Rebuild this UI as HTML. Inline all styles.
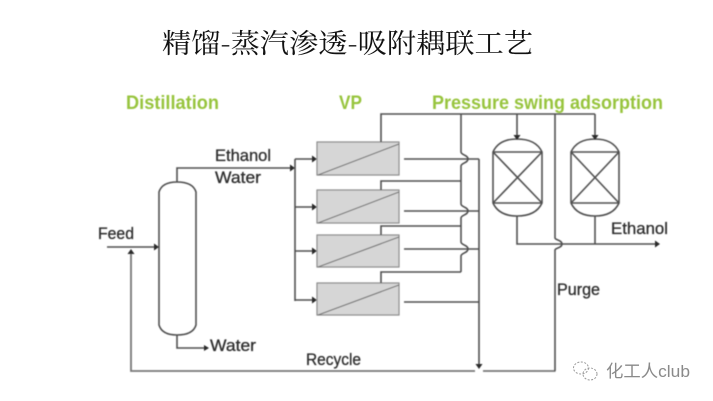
<!DOCTYPE html>
<html lang="zh">
<head>
<meta charset="utf-8">
<style>
html,body{margin:0;padding:0;background:#fff;width:713px;height:401px;overflow:hidden}
svg{display:block}
.l{fill:none;stroke:#4f4f4f;stroke-width:1.6}
.m{fill:#d6d6d6;stroke:#8a8a8a;stroke-width:1.2}
.d{fill:none;stroke:#6f6f6f;stroke-width:1.1}
.a{fill:#2a2a2a;stroke:none}
.t{font-family:"Liberation Sans",sans-serif;font-size:16.5px;fill:#2e2e2e;stroke:#2e2e2e;stroke-width:.3}
.g{font-family:"Liberation Sans",sans-serif;font-size:19px;font-weight:bold;fill:#97c43c}
</style>
</head>
<body>
<svg width="713" height="401" viewBox="0 0 713 401" xmlns="http://www.w3.org/2000/svg">
<defs><filter id="b" x="-5%" y="-5%" width="110%" height="110%"><feGaussianBlur stdDeviation="0.45"/></filter></defs>

<text x="162" y="53" textLength="371" lengthAdjust="spacingAndGlyphs" font-family="'Noto Serif CJK SC',serif" font-size="27" fill="#111">精馏-蒸汽渗透-吸附耦联工艺</text>

<g filter="url(#b)">
<text class="g" x="126" y="109" textLength="93" lengthAdjust="spacingAndGlyphs">Distillation</text>
<text class="g" x="339" y="109" textLength="23" lengthAdjust="spacingAndGlyphs">VP</text>
<text class="g" x="432" y="109" textLength="231" lengthAdjust="spacingAndGlyphs">Pressure swing adsorption</text>

<!-- column -->
<path class="l" d="M159 192 Q162 182 177 182 Q193 182 196 192 V325 Q193 335 177 335 Q162 335 159 325 Z"/>
<!-- feed -->
<path class="l" d="M107 247 H156"/>
<polygon class="a" points="159,247 154,243.5 154,250.5"/>
<!-- top product -->
<path class="l" d="M177 182 V168 H292"/>
<polygon class="a" points="295,168 290,164.5 290,171.5"/>
<!-- bottom product -->
<path class="l" d="M177 335 V348 H206"/>
<polygon class="a" points="209,348 204,345 204,351"/>
<!-- distribution -->
<path class="l" d="M295 159 V301 M295 159 H314 M295 207 H314 M295 251 H314 M295 300 H314"/>
<polygon class="a" points="317,159 312,155.5 312,162.5"/>
<polygon class="a" points="317,207 312,203.5 312,210.5"/>
<polygon class="a" points="317,251 312,247.5 312,254.5"/>
<polygon class="a" points="317,300 312,296.5 312,303.5"/>

<!-- membranes -->
<rect class="m" x="317" y="142" width="82" height="33"/>
<path class="d" d="M318 175 L399 144"/>
<rect class="m" x="317" y="190" width="82" height="33"/>
<path class="d" d="M318 223 L399 192"/>
<rect class="m" x="317" y="235" width="82" height="32"/>
<path class="d" d="M318 267 L399 237"/>
<rect class="m" x="317" y="283" width="82" height="32"/>
<path class="d" d="M318 315 L399 285"/>

<!-- permeate headers -->
<path class="l" d="M381 142 V114 H595"/>
<path class="l" d="M381 190 V181 H461"/>
<path class="l" d="M381 235 V226 H461"/>
<path class="l" d="M381 283 V272 H461"/>
<path class="l" d="M461 114 V152 C461 155 468 155 468 159 C468 163 461 163 461 166 V204 C461 207 468 207 468 211 C468 215 461 215 461 218 V242 C461 245 468 245 468 249 C468 253 461 253 461 256 V272"/>
<!-- retentate -->
<path class="l" d="M404 159 H479 M404 211 H479 M404 249 H479 M404 302 H479"/>
<path class="l" d="M479 159 V364"/>
<polygon class="a" points="479,369 475.5,364 482.5,364"/>

<!-- recycle -->
<path class="l" style="stroke:#777;stroke-width:1.8" d="M131 253 V371 H475 M483 371 H555.500"/>
<polygon class="a" points="131,249 127.500,254 134.500,254"/>
<!-- purge -->
<path class="l" d="M555 114 V238 C555 240 562 240 562 244 C562 248 555 248 555 250 V371"/>

<!-- PSA vessels -->
<path class="l" d="M493 152 Q499 139 517 139 Q536 139 542 152 V203 Q536 216 517 216 Q499 216 493 203 Z"/>
<path class="l" d="M493 152 H542 M493 203 H542 M493 152 L542 203 M542 152 L493 203"/>
<path class="l" d="M571 152 Q577 139 595 139 Q613 139 619 152 V203 Q613 216 595 216 Q577 216 571 203 Z"/>
<path class="l" d="M571 152 H619 M571 203 H619 M571 152 L619 203 M619 152 L571 203"/>
<path class="l" d="M517 114 V135 M595 114 V135"/>
<polygon class="a" points="517,140 513.500,135 520.500,135"/>
<polygon class="a" points="595,140 591.500,135 598.500,135"/>
<path class="l" d="M517 216 V244 H655 M595 216 V244"/>
<polygon class="a" points="660,244 655,240.500 655,247.500"/>

<!-- labels -->
<text class="t" x="215" y="161" textLength="56" lengthAdjust="spacingAndGlyphs">Ethanol</text>
<text class="t" x="215" y="183" textLength="46" lengthAdjust="spacingAndGlyphs">Water</text>
<text class="t" x="98" y="239" textLength="36" lengthAdjust="spacingAndGlyphs">Feed</text>
<text class="t" x="210" y="351" textLength="46" lengthAdjust="spacingAndGlyphs">Water</text>
<text class="t" x="306" y="365" textLength="55" lengthAdjust="spacingAndGlyphs">Recycle</text>
<text class="t" x="557" y="295" textLength="43" lengthAdjust="spacingAndGlyphs">Purge</text>
<text class="t" x="611" y="234" textLength="57" lengthAdjust="spacingAndGlyphs">Ethanol</text>
</g>

<!-- watermark -->
<g fill="none" stroke="#999" stroke-width="1" stroke-dasharray="2 1.500">
<ellipse cx="581" cy="368" rx="7.500" ry="6"/>
<ellipse cx="590" cy="374" rx="7" ry="6"/>
</g>
<text x="606" y="377" textLength="84" lengthAdjust="spacingAndGlyphs" font-family="'Liberation Sans','Noto Sans CJK SC',sans-serif" font-size="17" fill="#8a8a8a">化工人club</text>
</svg>
</body>
</html>
